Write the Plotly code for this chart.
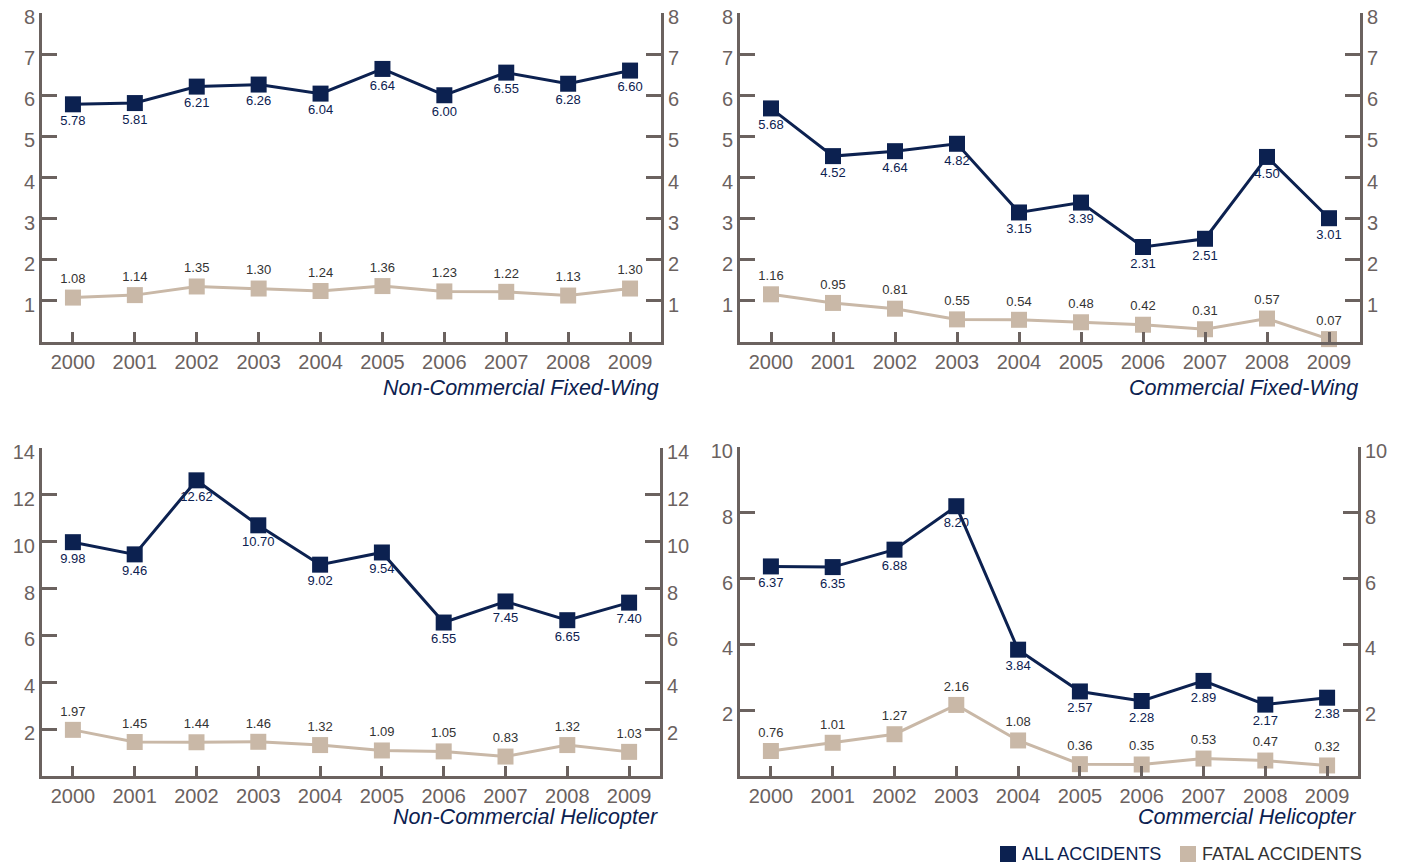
import plotly.graph_objs as go

years = [2000, 2001, 2002, 2003, 2004, 2005, 2006, 2007, 2008, 2009]

ncfw_all = [5.78, 5.81, 6.21, 6.26, 6.04, 6.64, 6.00, 6.55, 6.28, 6.60]
ncfw_fatal = [1.08, 1.14, 1.35, 1.30, 1.24, 1.36, 1.23, 1.22, 1.13, 1.30]
cfw_all = [5.68, 4.52, 4.64, 4.82, 3.15, 3.39, 2.31, 2.51, 4.50, 3.01]
cfw_fatal = [1.16, 0.95, 0.81, 0.55, 0.54, 0.48, 0.42, 0.31, 0.57, 0.07]
nch_all = [9.98, 9.46, 12.62, 10.70, 9.02, 9.54, 6.55, 7.45, 6.65, 7.40]
nch_fatal = [1.97, 1.45, 1.44, 1.46, 1.32, 1.09, 1.05, 0.83, 1.32, 1.03]
ch_all = [6.37, 6.35, 6.88, 8.20, 3.84, 2.57, 2.28, 2.89, 2.17, 2.38]
ch_fatal = [0.76, 1.01, 1.27, 2.16, 1.08, 0.36, 0.35, 0.53, 0.47, 0.32]

panel_titles = ["Non-Commercial Fixed-Wing", "Commercial Fixed-Wing",
                "Non-Commercial Helicopter", "Commercial Helicopter"]
y_max = [8, 8, 14, 10]
y_ticks = [[1, 2, 3, 4, 5, 6, 7, 8], [1, 2, 3, 4, 5, 6, 7, 8],
           [2, 4, 6, 8, 10, 12, 14], [2, 4, 6, 8, 10]]

NAVY = "#0c2150"
TAN = "#c9b8a7"
AXIS = "#6b625f"
FONT = "Liberation Sans, Arial, sans-serif"

# page body has an 8px margin, so the figure starts 8px in from the corner
OFF = 8
W, H = 1403 - OFF, 865 - OFF


def px_x(v):
    return (v - OFF) / W


def px_y(v):
    return 1 - (v - OFF) / H


# plot area boxes in page pixels: (left, right, top, bottom), title y
boxes = [(42, 661, 13, 342, 388), (740, 1360, 13, 342, 388),
         (42, 660, 448, 776, 817), (740, 1358, 447, 776, 817)]

panels = [(ncfw_all, ncfw_fatal), (cfw_all, cfw_fatal),
          (nch_all, nch_fatal), (ch_all, ch_fatal)]

fig = go.Figure()
layout = {}
annotations = []

for i, (all_vals, fatal_vals) in enumerate(panels):
    n = i + 1
    sfx = "" if n == 1 else str(n)
    left, right, top, bottom, title_y = boxes[i]
    xdom = [px_x(left), px_x(right)]
    ydom = [px_y(bottom), px_y(top)]

    fig.add_trace(go.Scatter(
        x=years, y=fatal_vals, xaxis="x" + sfx, yaxis="y" + sfx,
        mode="lines+markers+text",
        line=dict(color=TAN, width=3),
        marker=dict(symbol="square", size=16, color=TAN),
        text=[f"{v:.2f}" for v in fatal_vals],
        textposition="top center",
        textfont=dict(family=FONT, size=13, color="#333333"),
        cliponaxis=False, showlegend=False
    ))
    fig.add_trace(go.Scatter(
        x=years, y=all_vals, xaxis="x" + sfx, yaxis="y" + sfx,
        mode="lines+markers+text",
        line=dict(color=NAVY, width=3),
        marker=dict(symbol="square", size=16, color=NAVY),
        text=[f"{v:.2f}" for v in all_vals],
        textposition="bottom center",
        textfont=dict(family=FONT, size=13, color=NAVY),
        cliponaxis=False, showlegend=False
    ))

    axis_style = dict(
        ticks="inside", tickwidth=3, tickcolor=AXIS,
        showline=True, linecolor=AXIS, linewidth=3,
        showgrid=False, zeroline=False, automargin=False,
        ticklabeloverflow="allow",
        tickfont=dict(family=FONT, size=20, color=AXIS)
    )
    layout["xaxis" + sfx] = dict(
        domain=xdom, anchor="y" + sfx, range=[1999.5, 2009.5],
        tickvals=years, ticklen=10, **axis_style
    )
    # labels sit a few px below their tick, as in the original
    layout["yaxis" + sfx] = dict(
        domain=ydom, anchor="x" + sfx, range=[0, y_max[i]],
        tickvals=y_ticks[i], ticklen=15, side="left", ticklabelshift=4,
        **axis_style
    )
    layout["yaxis" + str(n + 4)] = dict(
        domain=ydom, anchor="x" + sfx, overlaying="y" + sfx, range=[0, y_max[i]],
        tickvals=y_ticks[i], ticklen=15, side="right", ticklabelshift=4,
        **axis_style
    )
    # dummy trace so the right-hand axis is drawn
    fig.add_trace(go.Scatter(x=[None], y=[None], xaxis="x" + sfx,
                             yaxis="y" + str(n + 4), showlegend=False,
                             hoverinfo="skip"))

    annotations.append(dict(
        text=f"<i>{panel_titles[i]}</i>", xref="paper", yref="paper",
        x=px_x(right), y=px_y(title_y),
        xanchor="right", yanchor="middle", showarrow=False,
        font=dict(family=FONT, size=21.5, color=NAVY)
    ))

# legend
shapes = [
    dict(type="rect", xref="paper", yref="paper", x0=px_x(1000), x1=px_x(1016),
         y0=px_y(862), y1=px_y(846), fillcolor=NAVY, line_width=0),
    dict(type="rect", xref="paper", yref="paper", x0=px_x(1180), x1=px_x(1196),
         y0=px_y(862), y1=px_y(846), fillcolor=TAN, line_width=0),
]
annotations.append(dict(
    text="ALL ACCIDENTS", xref="paper", yref="paper", x=px_x(1020), y=px_y(854),
    xanchor="left", yanchor="middle", showarrow=False,
    font=dict(family=FONT, size=18, color=NAVY)
))
annotations.append(dict(
    text="FATAL ACCIDENTS", xref="paper", yref="paper", x=px_x(1200), y=px_y(854),
    xanchor="left", yanchor="middle", showarrow=False,
    font=dict(family=FONT, size=18, color="#333333")
))

fig.update_layout(
    width=W, height=H,
    margin=dict(l=0, r=0, t=0, b=0),
    paper_bgcolor="white", plot_bgcolor="white",
    annotations=annotations, shapes=shapes,
    **layout
)

fig.write_html("out.html")
